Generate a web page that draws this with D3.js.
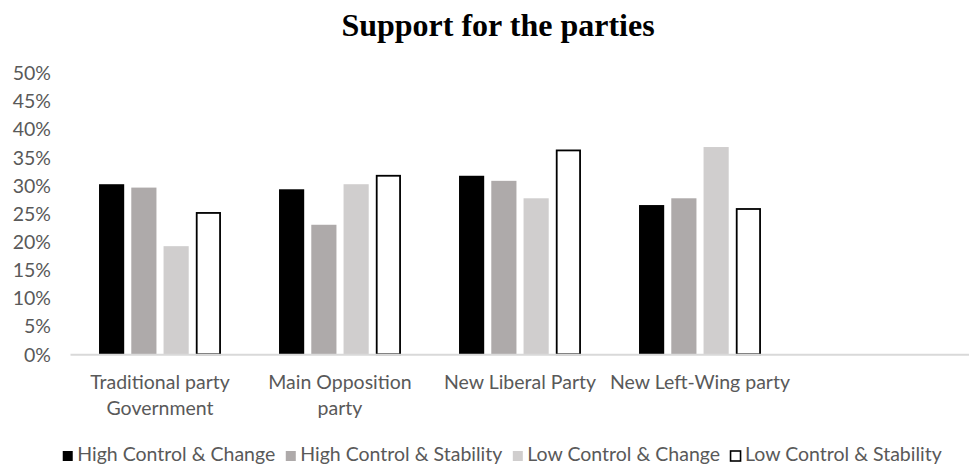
<!DOCTYPE html>
<html>
<head>
<meta charset="utf-8">
<script src="https://cdn.jsdelivr.net/npm/d3@7/dist/d3.min.js"></script>
<style>
  html, body { margin: 0; padding: 0; background: #ffffff; }
  svg { display: block; }
</style>
</head>
<body>
<svg id="chart" width="969" height="464"></svg>
<script>
// Party categories (the last slot is an empty category, as in the source workbook)
const categories = ["Traditional party Government", "Main Opposition party", "New Liberal Party", "New Left-Wing party", ""];
const categoryLines = [["Traditional party", "Government"], ["Main Opposition", "party"], ["New Liberal Party"], ["New Left-Wing party"], []];

// Respondent groups
const seriesNames = ["High Control & Change", "High Control & Stability", "Low Control & Change", "Low Control & Stability"];

// Share of support, in percent, per party
const highControlChange    = [30.2, 29.3, 31.7, 26.5];
const highControlStability = [29.6, 23.0, 30.8, 27.7];
const lowControlChange     = [19.2, 30.2, 27.7, 36.8];
const lowControlStability  = [25.1, 31.7, 36.2, 25.8];

// Y axis ticks, percent
const yTicks = [0, 5, 10, 15, 20, 25, 30, 35, 40, 45, 50];

const seriesValues = [highControlChange, highControlStability, lowControlChange, lowControlStability];
const seriesFill   = ["#000000", "#aeaaaa", "#d0cece", "#ffffff"];
const seriesStroke = ["none", "none", "none", "#000000"];

const svg = d3.select("#chart");
const labelFont = "Lato, 'Open Sans', sans-serif";
const textGray = "#595959";

const x = d3.scaleBand().domain(categories.map((c, i) => i)).range([70, 970]).paddingInner(0).paddingOuter(0);
const xs = d3.scaleBand().domain(d3.range(seriesNames.length)).range([0, x.bandwidth()]).paddingInner(0.22).paddingOuter(0.9);
const y = d3.scaleLinear().domain([0, 50]).range([354.3, 72.7]);

// Title
svg.append("text")
  .attr("x", 498).attr("y", 36)
  .attr("text-anchor", "middle")
  .style("font-family", "'Liberation Serif', 'Times New Roman', serif")
  .style("font-weight", "bold")
  .style("font-size", "32px")
  .style("fill", "#000")
  .text("Support for the parties");

// Y axis (labels only)
const yAxis = d3.axisLeft(y).tickValues(yTicks).tickFormat(d => d + "%").tickSize(0).tickPadding(0);
const gy = svg.append("g").attr("transform", "translate(51,0)").call(yAxis);
gy.select(".domain").remove();
gy.selectAll("text")
  .style("font-family", labelFont)
  .style("font-size", "19.5px")
  .style("fill", textGray)
  .attr("dy", "0.35em");

// Bars
const groups = svg.append("g").selectAll("g")
  .data(categories.slice(0, 4))
  .join("g")
  .attr("transform", (d, i) => `translate(${x(i)},0)`);

groups.selectAll("rect")
  .data((d, i) => seriesValues.map((vals, s) => ({ s, v: vals[i] })))
  .join("rect")
  .attr("x", d => xs(d.s) + (d.s === 3 ? 0.9 : 0))
  .attr("width", d => xs.bandwidth() - (d.s === 3 ? 1.8 : 0))
  .attr("y", d => y(d.v))
  .attr("height", d => y(0) - y(d.v))
  .attr("fill", d => seriesFill[d.s])
  .attr("stroke", d => seriesStroke[d.s])
  .attr("stroke-width", 1.8);

// X axis line and category labels
const xAxis = d3.axisBottom(x).tickSize(0).tickFormat(() => "");
const gx = svg.append("g").attr("transform", `translate(0,${y(0)})`).call(xAxis);
gx.select(".domain").attr("stroke", "#d9d9d9").attr("stroke-width", 2);

const labels = svg.append("g");
categories.forEach((c, i) => {
  const t = labels.append("text")
    .attr("x", x(i) + x.bandwidth() / 2)
    .attr("y", 389)
    .attr("text-anchor", "middle")
    .style("font-family", labelFont)
    .style("font-size", "19.5px")
    .style("fill", textGray);
  categoryLines[i].forEach((line, k) => {
    t.append("tspan")
      .attr("x", x(i) + x.bandwidth() / 2)
      .attr("dy", k === 0 ? 0 : 25.5)
      .text(line);
  });
});

// Legend, laid out left to right and centred under the plot
const legend = svg.append("g");
const entryGap = 10;
let cursor = 0;
seriesNames.forEach((name, s) => {
  const g = legend.append("g");
  g.append("rect")
    .attr("x", 0.5).attr("y", -9.5)
    .attr("width", 10).attr("height", 10)
    .attr("fill", seriesFill[s])
    .attr("stroke", seriesStroke[s])
    .attr("stroke-width", 1.6);
  const t = g.append("text")
    .attr("x", 15).attr("y", 0)
    .style("font-family", labelFont)
    .style("font-size", "19.5px")
    .style("fill", textGray)
    .text(name);
  const w = 15 + t.node().getComputedTextLength();
  g.attr("transform", `translate(${cursor},0)`);
  cursor += w + entryGap;
});
const legendWidth = cursor - entryGap;
legend.attr("transform", `translate(${502 - legendWidth / 2},460.5)`);
</script>
</body>
</html>
